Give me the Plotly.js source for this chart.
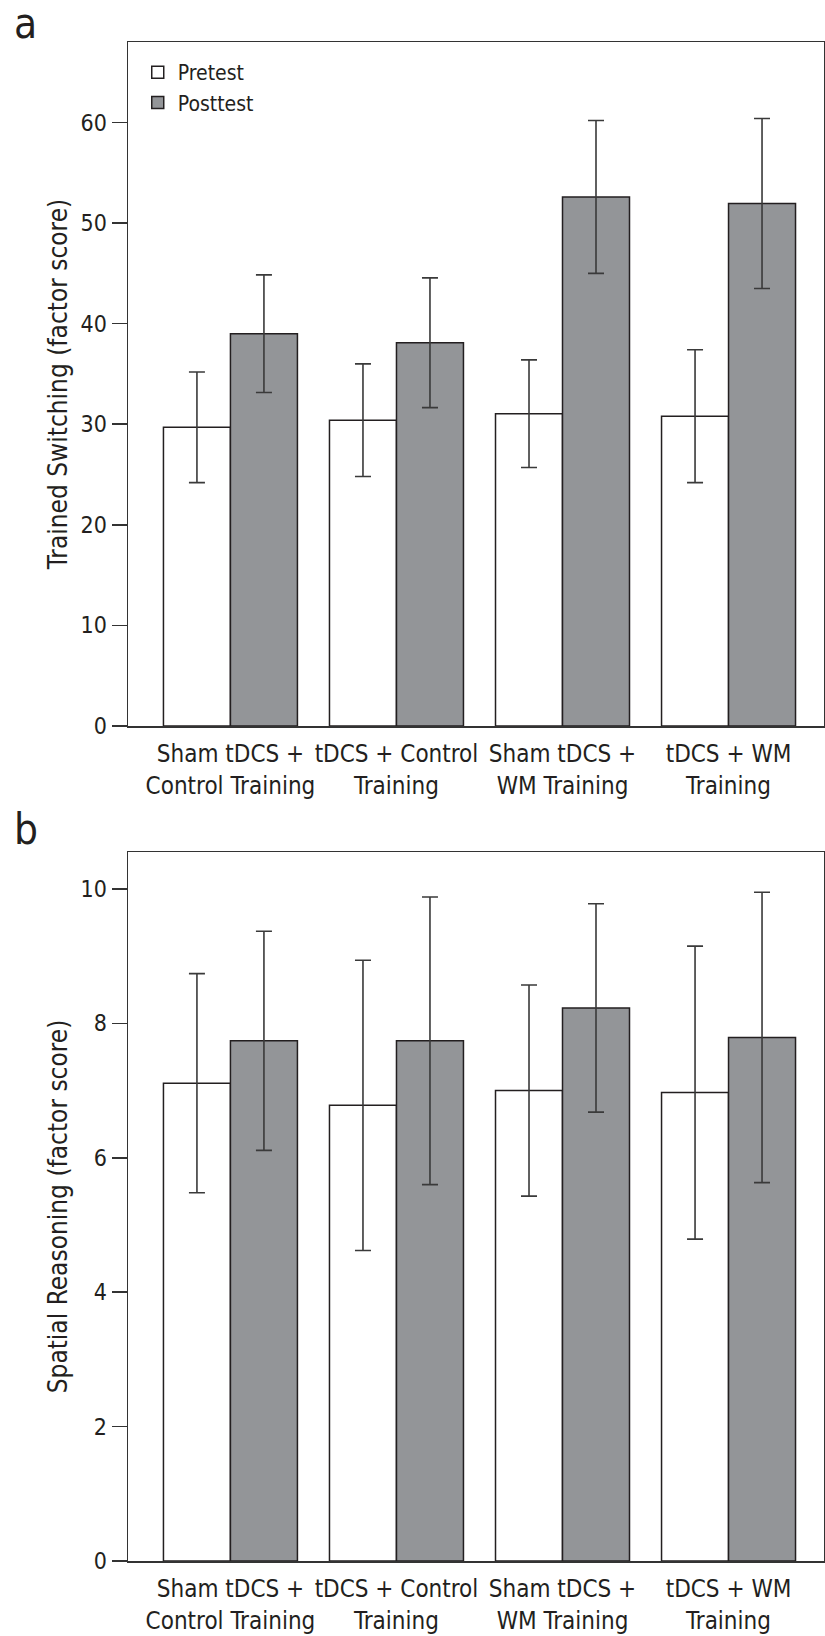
<!DOCTYPE html>
<html>
<head>
<meta charset="utf-8">
<script src="https://cdn.plot.ly/plotly-3.0.1.min.js"></script>
<style>html,body{margin:0;padding:0;background:#fff;}#chart{width:825px;height:1636px;}</style>
</head>
<body>
<div id="chart"></div>
<script>
const categories = ["Sham tDCS +<br>Control Training", "tDCS + Control<br>Training", "Sham tDCS +<br>WM Training", "tDCS + WM<br>Training"];
const seriesNames = ["Pretest", "Posttest"];

const switchPre = [29.7, 30.4, 31.05, 30.8];
const switchPreErr = [5.5, 5.6, 5.35, 6.6];
const switchPost = [39.0, 38.1, 52.6, 51.95];
const switchPostErr = [5.85, 6.45, 7.6, 8.45];

const spatialPre = [7.11, 6.78, 7.0, 6.97];
const spatialPreErr = [1.63, 2.16, 1.57, 2.18];
const spatialPost = [7.74, 7.74, 8.23, 7.79];
const spatialPostErr = [1.63, 2.14, 1.55, 2.16];

const yTicksA = [0, 10, 20, 30, 40, 50, 60];
const yTicksB = [0, 2, 4, 6, 8, 10];

const FONT = '"Liberation Sans Narrow", "DejaVu Sans Condensed", "Arial Narrow", "Liberation Sans", sans-serif';
const INK = '#231f20';
const LINE = '#333333';
const fills = ['#ffffff', '#939598'];

function barTrace(vals, errs, idx, xa, ya, showLegend) {
  return {
    type: 'bar', x: categories, y: vals, name: seriesNames[idx],
    xaxis: xa, yaxis: ya, showlegend: showLegend,
    marker: {color: fills[idx], line: {color: INK, width: 1.5}},
    error_y: {type: 'data', array: errs, visible: true, color: '#3a3a3a', thickness: 1.6, width: 8},
    hoverinfo: 'skip'
  };
}

const data = [
  barTrace(switchPre, switchPreErr, 0, 'x', 'y', true),
  barTrace(switchPost, switchPostErr, 1, 'x', 'y', true),
  barTrace(spatialPre, spatialPreErr, 0, 'x2', 'y2', false),
  barTrace(spatialPost, spatialPostErr, 1, 'x2', 'y2', false)
];

const H = 1636;
function dom(topPx, botPx) { return [(H - botPx) / H, (H - topPx) / H]; }

const xBase = {
  type: 'category', range: [-0.617, 3.575], showline: true, linecolor: LINE, linewidth: 1.5,
  mirror: true, ticks: 'outside', ticklen: 6, tickcolor: 'rgba(0,0,0,0)', showgrid: false, tickangle: 0,
  zeroline: false, tickfont: {family: FONT, size: 24, color: INK}, automargin: false, fixedrange: true
};
const yBase = {
  showline: true, linecolor: LINE, linewidth: 1.5, mirror: true, ticks: 'outside', ticklen: 15,
  tickwidth: 1.5, tickcolor: LINE, showgrid: false, zeroline: false,
  tickfont: {family: FONT, size: 23, color: INK}, automargin: false, fixedrange: true
};

const layout = {
  width: 825, height: H,
  margin: {l: 128, r: 1, t: 0, b: 0},
  paper_bgcolor: '#fff', plot_bgcolor: '#fff',
  font: {family: FONT, color: INK},
  barmode: 'group', bargap: 0.193, bargroupgap: 0,
  xaxis: Object.assign({}, xBase, {anchor: 'y'}),
  yaxis: Object.assign({}, yBase, {anchor: 'x', domain: dom(42, 726), range: [0, 68], tickvals: yTicksA,
    title: {text: 'Trained Switching (factor score)', font: {family: FONT, size: 26, color: INK}, standoff: 5}}),
  xaxis2: Object.assign({}, xBase, {anchor: 'y2'}),
  yaxis2: Object.assign({}, yBase, {anchor: 'x2', domain: dom(852, 1561), range: [0, 10.55], tickvals: yTicksB,
    title: {text: 'Spatial Reasoning (factor score)', font: {family: FONT, size: 26, color: INK}, standoff: 5}}),
  legend: {x: 0.014, y: 1 - 52 / H, xanchor: 'left', yanchor: 'top', bgcolor: 'rgba(0,0,0,0)',
    font: {family: FONT, size: 21, color: INK}, tracegroupgap: 0, itemclick: false, itemdoubleclick: false},
  annotations: [
    {text: 'a', xref: 'paper', yref: 'paper', x: (12 - 128) / 696, y: 1 - 24 / H, xanchor: 'left', yanchor: 'middle',
      showarrow: false, font: {family: FONT, size: 42, color: INK}},
    {text: 'b', xref: 'paper', yref: 'paper', x: (12 - 128) / 696, y: 1 - 829 / H, xanchor: 'left', yanchor: 'middle',
      showarrow: false, font: {family: FONT, size: 42, color: INK}}
  ]
};

Plotly.newPlot('chart', data, layout, {displayModeBar: false, staticPlot: true});
</script>
</body>
</html>
